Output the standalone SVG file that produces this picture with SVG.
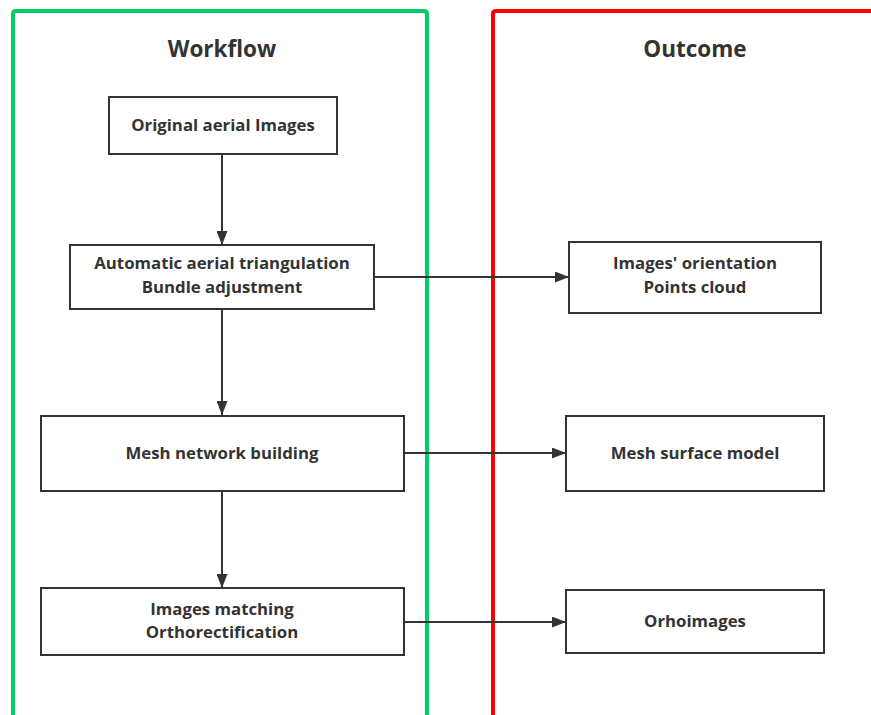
<svg xmlns="http://www.w3.org/2000/svg" width="871" height="715" viewBox="0 0 871 715">
<style>
.frame{fill:none;stroke-width:4}
.box{fill:#fff;stroke:#333;stroke-width:2}
.t{font-family:"Open Sans","Noto Sans",sans-serif;font-weight:bold;font-size:16.8px;fill:#333;text-anchor:middle}
.title{font-family:"Open Sans","Noto Sans",sans-serif;font-weight:bold;font-size:22.5px;fill:#333;text-anchor:middle}
.c{stroke:#333;stroke-width:2;fill:none;marker-end:url(#ah)}
</style>
<defs>
<marker id="ah" viewBox="0 0 14 11" refX="14" refY="5.5" markerWidth="14" markerHeight="11" markerUnits="userSpaceOnUse" orient="auto">
<path d="M0,0 L14,5.5 L0,11 z" fill="#333"/>
</marker>
</defs>
<rect width="871" height="715" fill="#fff"/>
<g id="lane-workflow">
<path class="frame" d="M13,725 V14 Q13,11 16,11 H424 Q427,11 427,14 V725" stroke="#00cc66"/>
<text class="title" x="222" y="57">Workflow</text>
</g>
<g id="lane-outcome">
<path class="frame" d="M493,725 V14 Q493,11 496,11 H880" stroke="#ff0000"/>
<text class="title" x="695" y="57">Outcome</text>
</g>
<g id="connectors">
<line class="c" x1="222" y1="155" x2="222" y2="245"/>
<line class="c" x1="222" y1="309" x2="222" y2="415"/>
<line class="c" x1="222" y1="491" x2="222" y2="588"/>
<line class="c" x1="374" y1="277" x2="569" y2="277"/>
<line class="c" x1="404" y1="453" x2="566" y2="453"/>
<line class="c" x1="404" y1="622" x2="566" y2="622"/>
</g>
<g id="n1"><rect class="box" x="109" y="97" width="228" height="57"/><text class="t" x="223" y="131">Original aerial Images</text></g>
<g id="n2"><rect class="box" x="70" y="245" width="304" height="64"/><text class="t"><tspan x="222" y="269.4">Automatic aerial triangulation</tspan><tspan x="222" y="292.7">Bundle adjustment</tspan></text></g>
<g id="n3"><rect class="box" x="41" y="416" width="363" height="75"/><text class="t" x="222" y="459">Mesh network building</text></g>
<g id="n4"><rect class="box" x="41" y="588" width="363" height="67"/><text class="t"><tspan x="222" y="614.9">Images matching</tspan><tspan x="222" y="638.2">Orthorectification</tspan></text></g>
<g id="n5"><rect class="box" x="569" y="242" width="252" height="71"/><text class="t"><tspan x="695" y="269.4">Images' orientation</tspan><tspan x="695" y="292.7">Points cloud</tspan></text></g>
<g id="n6"><rect class="box" x="566" y="416" width="258" height="75"/><text class="t" x="695" y="459">Mesh surface model</text></g>
<g id="n7"><rect class="box" x="566" y="590" width="258" height="63"/><text class="t" x="695" y="627">Orhoimages</text></g>
</svg>
